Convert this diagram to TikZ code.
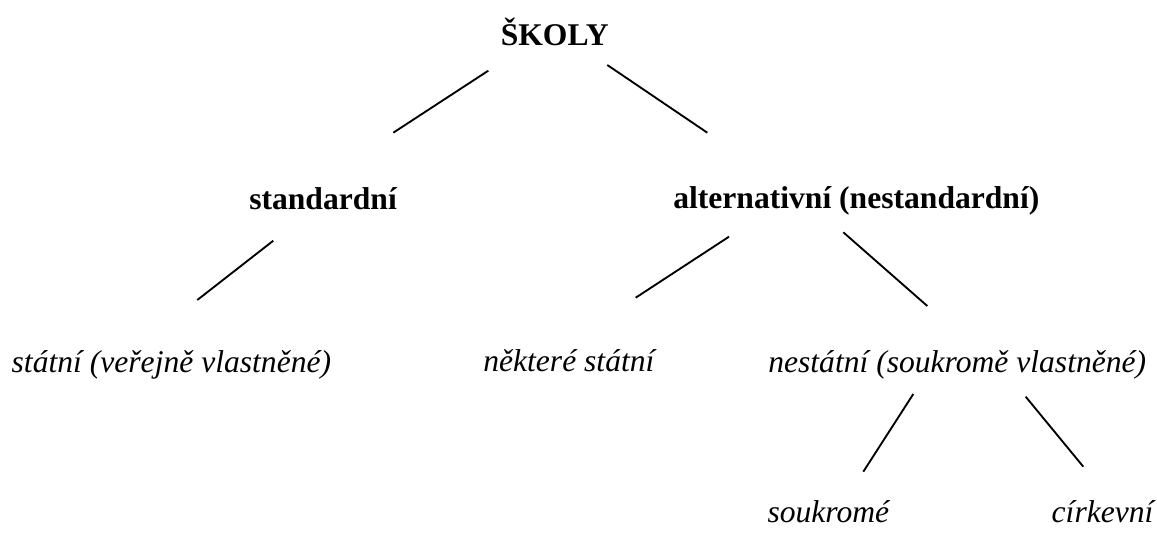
\documentclass[tikz,border=0pt]{standalone}
\usepackage{fontspec}
\setmainfont{Liberation Serif}
\begin{document}
\begin{tikzpicture}[x=0.75pt,y=-0.75pt,
  lbl/.style={inner sep=0pt,outer sep=0pt,font=\fontsize{23.7pt}{28pt}\selectfont},
  head/.style={lbl,font=\fontsize{23.7pt}{28pt}\selectfont\bfseries},
  leaf/.style={lbl,font=\fontsize{23.7pt}{28pt}\selectfont\itshape},
  edge/.style={draw=black,line width=1.4pt}]
\useasboundingbox (0,0) rectangle (1157,538);
% nodes
\node[head,anchor=base] (skoly) at (554.7,45.7) {ŠKOLY};
\node[head,anchor=base west] (std) at (249.3,209.3) {standardní};
\node[head,anchor=base west] (alt) at (673.3,208.7) {alternativní (nestandardní)};
\node[leaf,anchor=base west] (statni) at (11.7,372.5) {státní (veřejně vlastněné)};
\node[leaf,anchor=base west] (nekt) at (483.3,372) {některé státní};
\node[leaf,anchor=base west] (nest) at (768.3,372.3) {nestátní (soukromě vlastněné)};
\node[leaf,anchor=base west] (souk) at (767.5,522.7) {soukromé};
\node[leaf,anchor=base west] (cirk) at (1051.7,522.7) {církevní};
% connector end points
\coordinate (skL) at (488.3,70.7);  \coordinate (stdT) at (393.3,132.7);
\coordinate (skR) at (607.3,65);    \coordinate (altT) at (707.3,132.7);
\coordinate (stdB) at (273.3,240.7); \coordinate (statT) at (197.3,300);
\coordinate (altL) at (729,236.7);  \coordinate (nektT) at (635.7,297.7);
\coordinate (altR) at (843.3,232.3); \coordinate (nestT) at (927.3,306);
\coordinate (nestL) at (913.3,394); \coordinate (soukT) at (863.3,471.7);
\coordinate (nestR) at (1025.7,396.7); \coordinate (cirkT) at (1083.3,466.7);
% connectors
\draw[edge] (skL) -- (stdT);
\draw[edge] (skR) -- (altT);
\draw[edge] (stdB) -- (statT);
\draw[edge] (altL) -- (nektT);
\draw[edge] (altR) -- (nestT);
\draw[edge] (nestL) -- (soukT);
\draw[edge] (nestR) -- (cirkT);
\end{tikzpicture}
\end{document}
